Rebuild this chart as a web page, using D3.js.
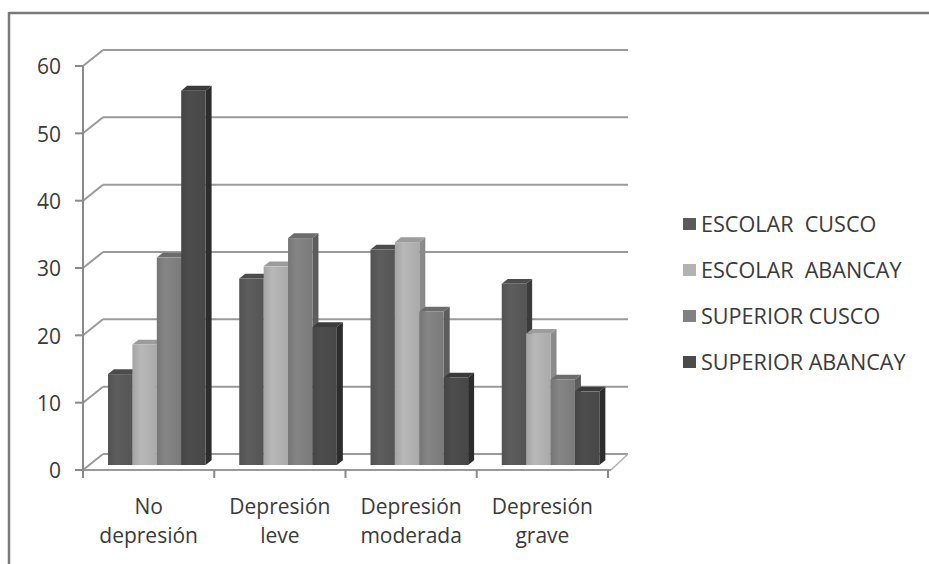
<!DOCTYPE html>
<html>
<head>
<meta charset="utf-8">
<script src="https://cdn.jsdelivr.net/npm/d3@7"></script>
<style>
  html, body { margin: 0; padding: 0; background: #ffffff; }
  svg { display: block; }
  text { font-family: "Open Sans", "Noto Sans", sans-serif; fill: #3a3a3a; }
</style>
</head>
<body>
<svg id="chart" width="929" height="564"></svg>
<script>
// Categories on the x axis (two text lines each)
const categories = ["No depresión", "Depresión leve", "Depresión moderada", "Depresión grave"];
const categoryLines = [["No", "depresión"], ["Depresión", "leve"], ["Depresión", "moderada"], ["Depresión", "grave"]];

// Series and their percentages per category
const seriesNames = ["ESCOLAR  CUSCO", "ESCOLAR  ABANCAY", "SUPERIOR CUSCO", "SUPERIOR ABANCAY"];
const escolarCusco    = [13.5, 27.7, 32.0, 26.9];
const escolarAbancay  = [17.9, 29.5, 33.1, 19.5];
const superiorCusco   = [30.8, 33.7, 22.8, 12.7];
const superiorAbancay = [55.6, 20.5, 13.0, 10.9];
const seriesValues = [escolarCusco, escolarAbancay, superiorCusco, superiorAbancay];

// Value axis ticks
const yTicks = [0, 10, 20, 30, 40, 50, 60];

// Face colours for each series: front, side, top
const faceColors = [
  { front: "#5a5a5a", side: "#3b3b3b", top: "#4c4c4c" },
  { front: "#b3b3b3", side: "#8a8a8a", top: "#9c9c9c" },
  { front: "#818181", side: "#5c5c5c", top: "#6c6c6c" },
  { front: "#4b4b4b", side: "#2c2c2c", top: "#3b3b3b" }
];

const svg = d3.select("#chart");

// Frame around the chart area
svg.append("line").attr("x1", 9).attr("y1", 13).attr("x2", 929).attr("y2", 13)
  .attr("stroke", "#7a7a7a").attr("stroke-width", 2.5);
svg.append("line").attr("x1", 9).attr("y1", 12).attr("x2", 9).attr("y2", 564)
  .attr("stroke", "#7a7a7a").attr("stroke-width", 2.5);

// Layout of the 3D box
const x0 = 83, x1 = 608;           // front edge of the floor
const depthX = 20, depthY = -16;   // offset from front to back wall

const y = d3.scaleLinear().domain([0, 60]).range([470, 66]);
const x = d3.scaleBand().domain(categories).range([x0, x1]).paddingInner(0).paddingOuter(0);
const xs = d3.scaleBand().domain(seriesNames).range([25, 122.6]).padding(0);

// Bars stand a little behind the front edge
const barShiftY = -5;
const yBar = d3.scaleLinear().domain([0, 60]).range([y(0) + barShiftY, y(60) + barShiftY]);
const sideDX = 6, sideDY = -4.8;

// Gradients for front faces
const defs = svg.append("defs");
faceColors.forEach((c, i) => {
  const g = defs.append("linearGradient").attr("id", "grad" + i)
    .attr("x1", "0%").attr("x2", "100%").attr("y1", "0%").attr("y2", "0%");
  const base = d3.color(c.front);
  g.append("stop").attr("offset", "0%").attr("stop-color", base.darker(0.25));
  g.append("stop").attr("offset", "35%").attr("stop-color", base.brighter(0.08));
  g.append("stop").attr("offset", "100%").attr("stop-color", base.darker(0.15));
});

// Gridlines: side wall diagonal + back wall horizontal
const grid = svg.append("g");
yTicks.forEach(t => {
  const yy = y(t);
  grid.append("line")
    .attr("x1", x0).attr("y1", yy).attr("x2", x0 + depthX).attr("y2", yy + depthY)
    .attr("stroke", "#9a9a9a").attr("stroke-width", 2);
  grid.append("line")
    .attr("x1", x0 + depthX).attr("y1", yy + depthY).attr("x2", x1 + depthX).attr("y2", yy + depthY)
    .attr("stroke", "#9a9a9a").attr("stroke-width", 2);
});

// Floor front edge and right side
svg.append("line").attr("x1", x0).attr("y1", y(0)).attr("x2", x1 + 3).attr("y2", y(0))
  .attr("stroke", "#9a9a9a").attr("stroke-width", 2);
svg.append("line").attr("x1", x1 + 3).attr("y1", y(0)).attr("x2", x1 + depthX).attr("y2", y(0) + depthY)
  .attr("stroke", "#b0b0b0").attr("stroke-width", 1.5);

// Value axis
svg.append("line").attr("x1", x0).attr("y1", y(60)).attr("x2", x0).attr("y2", y(0) + 4)
  .attr("stroke", "#8a8a8a").attr("stroke-width", 2);
const yAxis = svg.append("g");
yTicks.forEach(t => {
  yAxis.append("line").attr("x1", x0 - 8).attr("y1", y(t)).attr("x2", x0).attr("y2", y(t))
    .attr("stroke", "#8a8a8a").attr("stroke-width", 2);
  yAxis.append("text").attr("x", 61).attr("y", y(t)).attr("dy", "0.4em")
    .attr("text-anchor", "end").attr("font-size", 21).text(t);
});

// Category axis ticks
const xTickPos = categories.map(c => x(c)).concat([x1]);
xTickPos.forEach(p => {
  svg.append("line").attr("x1", p).attr("y1", y(0)).attr("x2", p).attr("y2", y(0) + 8)
    .attr("stroke", "#8a8a8a").attr("stroke-width", 2);
});

// Category labels
categories.forEach((c, i) => {
  const cx = x(c) + x.bandwidth() / 2;
  categoryLines[i].forEach((ln, j) => {
    svg.append("text").attr("x", cx).attr("y", 514 + j * 29)
      .attr("text-anchor", "middle").attr("font-size", 21).text(ln);
  });
});

// 3D bars, drawn left to right so each bar covers its neighbour's side face
const bars = svg.append("g");
categories.forEach((c, ci) => {
  seriesNames.forEach((s, si) => {
    const v = seriesValues[si][ci];
    const left = x(c) + xs(s);
    const right = left + xs.bandwidth();
    const top = yBar(v);
    const base = yBar(0);
    const col = faceColors[si];
    const g = bars.append("g");
    // side face
    g.append("polygon")
      .attr("points", [[right, top], [right + sideDX, top + sideDY], [right + sideDX, base + sideDY], [right, base]].join(" "))
      .attr("fill", col.side);
    // top face
    g.append("polygon")
      .attr("points", [[left, top], [left + sideDX, top + sideDY], [right + sideDX, top + sideDY], [right, top]].join(" "))
      .attr("fill", col.top);
    // front face
    g.append("rect")
      .attr("x", left).attr("y", top).attr("width", right - left).attr("height", base - top)
      .attr("fill", "url(#grad" + si + ")");
  });
});

// Legend
const legend = svg.append("g");
seriesNames.forEach((s, i) => {
  const cy = 224 + i * 46;
  legend.append("rect").attr("x", 683).attr("y", cy - 6).attr("width", 13).attr("height", 12)
    .attr("fill", faceColors[i].front);
  legend.append("text").attr("x", 701).attr("y", cy).attr("dy", "0.37em")
    .attr("font-size", 21.6).style("white-space", "pre").text(s);
});
</script>
</body>
</html>
